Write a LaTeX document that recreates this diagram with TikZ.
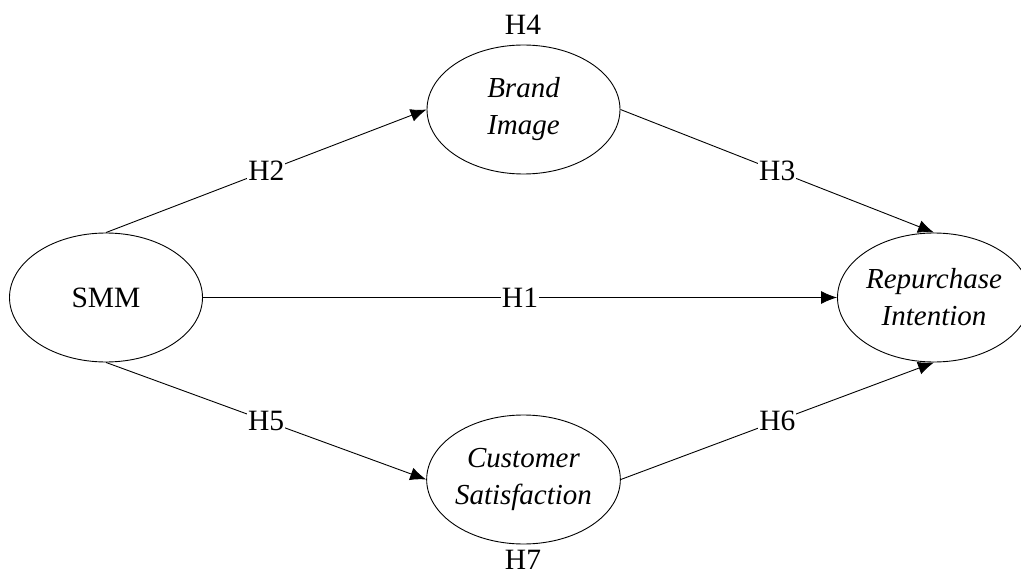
\documentclass[tikz,border=0pt]{standalone}
\usepackage{fontspec}
\setmainfont{Liberation Serif}
\usetikzlibrary{shapes.geometric,arrows.meta}
\begin{document}
\begin{tikzpicture}[x=1pt,y=-1pt,
  construct/.style={draw, line width=0.9pt, ellipse, minimum width=193pt, minimum height=129pt,
    inner sep=0pt, align=center, font=\fontsize{29}{37}\selectfont\itshape},
  link/.style={-{Latex[length=16pt,width=13pt]}, line width=0.9pt},
  hyp/.style={fill=white, inner sep=1pt, font=\fontsize{29.5}{35}\selectfont}]
  \useasboundingbox (0,0) rectangle (1021,575);

  % constructs
  \node[construct, font=\fontsize{29.5}{37}\selectfont] (smm) at (106,297.5) {SMM};
  \node[construct] (bi) at (523.5,109.5) {Brand\\Image};
  \node[construct] (cs) at (523.5,479.5) {Customer\\Satisfaction};
  \node[construct] (ri) at (934,297.5) {Repurchase\\Intention};

  % hypothesised paths
  \draw[link] (smm.north) -- (bi.west) node[midway,hyp] {H2};
  \draw[link] (bi.east) -- (ri.north) node[midway,hyp] {H3};
  \draw[link] (smm.east) -- (ri.west) node[midway,hyp] {H1};
  \draw[link] (smm.south) -- (cs.west) node[midway,hyp] {H5};
  \draw[link] (cs.east) -- (ri.south) node[midway,hyp] {H6};

  % mediation labels
  \node[hyp] (h4) at (523,25) {H4};
  \node[hyp] (h7) at (523,560) {H7};
\end{tikzpicture}
\end{document}
